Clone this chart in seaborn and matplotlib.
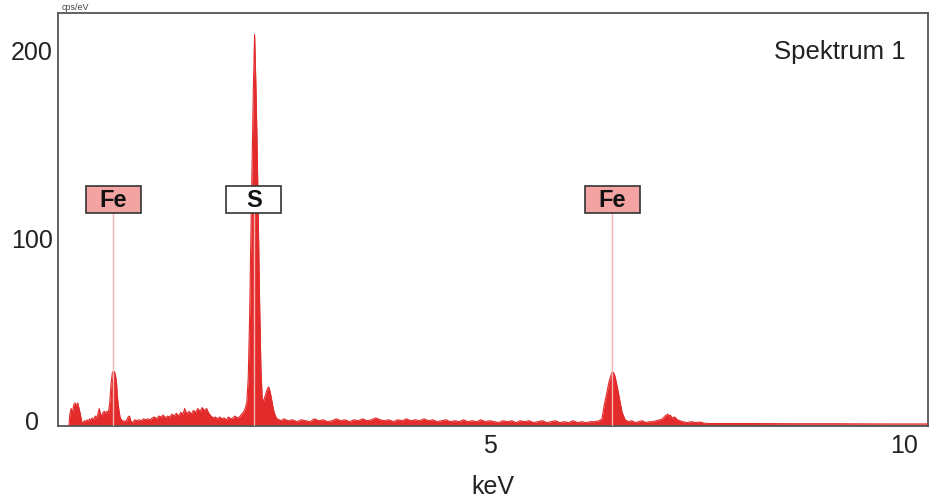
import numpy as np
import pandas as pd
import matplotlib
matplotlib.use('Agg')
import matplotlib.pyplot as plt
import matplotlib.transforms as mtransforms
from matplotlib.patches import Rectangle
import seaborn as sns

# ---- data ----
energy_kev = [
    0.20, 0.21, 0.225, 0.24, 0.255, 0.27, 0.285, 0.30, 0.315, 0.33, 0.345, 0.36, 0.375, 0.39,
    0.405, 0.42, 0.435, 0.45, 0.465, 0.48, 0.50, 0.515, 0.53, 0.545, 0.56, 0.575, 0.59, 0.605,
    0.62, 0.635, 0.65, 0.665, 0.68, 0.695, 0.71, 0.725, 0.74, 0.755, 0.77, 0.785, 0.80, 0.815,
    0.83, 0.845, 0.86, 0.875, 0.89, 0.905, 0.92, 0.935, 0.95,
    0.975, 1.00, 1.025, 1.05, 1.075, 1.10, 1.125, 1.15, 1.175, 1.20, 1.225, 1.25, 1.275, 1.30,
    1.325, 1.35, 1.375, 1.40, 1.425, 1.45, 1.475, 1.50, 1.52, 1.545, 1.57, 1.595, 1.62, 1.645,
    1.67, 1.695, 1.72, 1.745, 1.77, 1.795, 1.82, 1.845, 1.87, 1.895, 1.92, 1.945, 1.97, 1.995,
    2.02, 2.045, 2.07, 2.095, 2.12, 2.145, 2.17, 2.19,
    2.21, 2.228, 2.245, 2.262, 2.275, 2.29, 2.303, 2.318, 2.333, 2.348, 2.36, 2.375, 2.39,
    2.405, 2.42, 2.44, 2.46, 2.478, 2.495, 2.515, 2.535, 2.555, 2.575, 2.60, 2.625,
    2.65, 2.70, 2.75, 2.80, 2.85, 2.90, 2.95, 3.00, 3.05, 3.10, 3.15, 3.20, 3.25, 3.30, 3.35,
    3.40, 3.45, 3.50, 3.55, 3.60, 3.65, 3.70, 3.75, 3.80, 3.85, 3.90, 3.95, 4.00, 4.05, 4.10,
    4.15, 4.20, 4.25, 4.30, 4.35, 4.40, 4.45, 4.50, 4.55, 4.60, 4.65, 4.70, 4.75, 4.80, 4.85,
    4.90, 4.95, 5.00, 5.05, 5.10, 5.15, 5.20, 5.25, 5.30, 5.35, 5.40, 5.45, 5.50, 5.55, 5.60,
    5.65, 5.70, 5.75, 5.80, 5.85, 5.90, 5.95, 6.00, 6.05, 6.10, 6.15, 6.20, 6.25,
    6.28, 6.305, 6.33, 6.36, 6.385, 6.40, 6.415, 6.43, 6.457, 6.485, 6.51, 6.545, 6.58, 6.62,
    6.66, 6.70, 6.74, 6.78, 6.82, 6.86, 6.90, 6.94, 6.97, 7.00, 7.03, 7.045, 7.06, 7.08, 7.11,
    7.14, 7.17, 7.20, 7.25, 7.30, 7.35, 7.40, 7.45, 7.50, 8.00, 8.50, 9.00, 9.50, 10.0,
]
counts = [
    0, 6, 9, 7, 11, 12, 10, 12, 9, 6, 2, 1.5, 2.5, 2,
    3, 2, 3.5, 2.5, 4, 3, 5, 4, 6, 9, 6, 5, 7, 7.5,
    6.5, 7.5, 7, 12, 22, 28, 29, 28, 24, 14, 8, 4, 3, 2,
    2.5, 2, 3, 4.5, 5, 2.5, 1.5, 2, 3,
    2.5, 3, 2.5, 3.5, 3, 3.5, 3, 4, 4.5, 3.5, 5, 4.5, 5.5, 4,
    5, 4.5, 6, 5, 6.5, 5, 7, 6, 9, 6, 7.5, 6, 8, 7,
    9, 7.5, 9.5, 8, 9, 6.5, 5, 4, 4.5, 3.5, 4.5, 3.5, 4, 3,
    4.5, 3.5, 4, 5, 4, 4.5, 6, 7,
    9, 12, 25, 60, 100, 140, 178, 208, 180, 145, 110, 65, 30,
    14, 13, 16, 19, 20.5, 18, 13, 8, 5, 3.5, 3, 2.5,
    3.5, 2.5, 3, 2, 3, 2.5, 2, 3.5, 2.5, 3, 2, 2.5, 3.5, 2.5, 3,
    2, 3, 2.5, 3.5, 2.5, 3, 4, 3, 2.5, 3, 2, 3, 2.5, 3.5, 2.5,
    3, 2.5, 3.5, 2.5, 3, 2, 2.5, 3, 2, 2.5, 2, 3, 2, 2.5, 2,
    3, 2, 2.5, 2, 1.5, 2.5, 2, 2.5, 1.5, 2.5, 2, 2.5, 1.5, 2, 2.5,
    1.5, 2, 2.5, 1.5, 2, 1.5, 2.5, 1.5, 2, 1.5, 2, 2, 2.5,
    3.5, 10.5, 16, 23, 27, 28.5, 28, 26, 20, 13, 7, 3, 2, 2.5,
    1.5, 2, 2.5, 1.5, 2, 2, 2.5, 3, 3.5, 5, 6, 5, 5.5, 4, 4.5,
    3, 2.5, 2, 1.5, 2, 1.5, 1.8, 1.2, 1.0, 1.0, 0.9, 0.9, 0.8, 0.8,
]
peak_labels = ['Fe', 'S', 'Fe']
peak_energies = [0.705, 2.307, 6.40]
label_faces = ['#f4a3a3', '#ffffff', '#f4a3a3']
y_ticks = [0, 100, 200]
x_ticks = [5, 10]
spectrum_name = 'Spektrum 1'
y_unit = 'cps/eV'
x_unit = 'keV'

RED = '#e32b2b'

sns.set_theme(style='white')
plt.rcParams['font.family'] = ['Liberation Sans', 'DejaVu Sans']

fig = plt.figure(figsize=(9.36, 5.02), dpi=100)
fig.patch.set_facecolor('white')
ax = fig.add_axes([58 / 936, 1 - 427 / 502, 870 / 936, 413 / 502])

df = pd.DataFrame({'keV': energy_kev, 'cps': counts})
ax.fill_between(df['keV'], 0, df['cps'], color=RED, lw=0, zorder=2)
sns.lineplot(data=df, x='keV', y='cps', ax=ax, color=RED, lw=0.8, zorder=3)

ax.set_xlim(0.075, 10.0)
ax.set_ylim(-0.3, 219.4)

# peak marker lines and label boxes
box_w = 0.63
box_h = 14.4
box_y = 120.2
for lab, e, fc in zip(peak_labels, peak_energies, label_faces):
    ax.plot([e, e], [0, box_y - box_h / 2], color='#f7b2b2', lw=1.0, zorder=4)
    ax.add_patch(Rectangle((e - box_w / 2, box_y - box_h / 2), box_w, box_h,
                           facecolor=fc, edgecolor='#333333', lw=1.2, zorder=5))
    ax.text(e, box_y, lab, ha='center', va='center', fontsize=17, fontweight='bold',
            color='#111111', zorder=6)

ax.text(0.974, 0.908, spectrum_name, transform=ax.transAxes, ha='right', va='center',
        fontsize=18.5, color='#222222')

ax.set_xticks(x_ticks)
ax.set_xticklabels([str(t) for t in x_ticks])
ax.set_yticks(y_ticks)
ax.set_yticklabels([str(t) for t in y_ticks])
ax.tick_params(axis='both', length=0, labelsize=18, labelcolor='#222222')
ax.tick_params(axis='x', pad=5)
ax.tick_params(axis='y', pad=19)
for t in ax.get_yticklabels():
    t.set_ha('center')
# lift the "0" label slightly and pull the last x label inside
ylabs = ax.get_yticklabels()
ylabs[0].set_transform(ylabs[0].get_transform() +
                       mtransforms.ScaledTranslation(0, 0.06, fig.dpi_scale_trans))
xlabs = ax.get_xticklabels()
xlabs[-1].set_transform(xlabs[-1].get_transform() +
                        mtransforms.ScaledTranslation(-0.24, 0, fig.dpi_scale_trans))

ax.set_xlabel(x_unit, fontsize=18, color='#222222', labelpad=12)
ax.set_ylabel('')
fig.text(62 / 936, 1 - 3 / 502, y_unit, ha='left', va='top', fontsize=6.5, color='#444444')

for s in ax.spines.values():
    s.set_color('#555555')
    s.set_linewidth(1.3)
    s.set_visible(True)

fig.savefig('out.png', dpi=100, facecolor='white')
